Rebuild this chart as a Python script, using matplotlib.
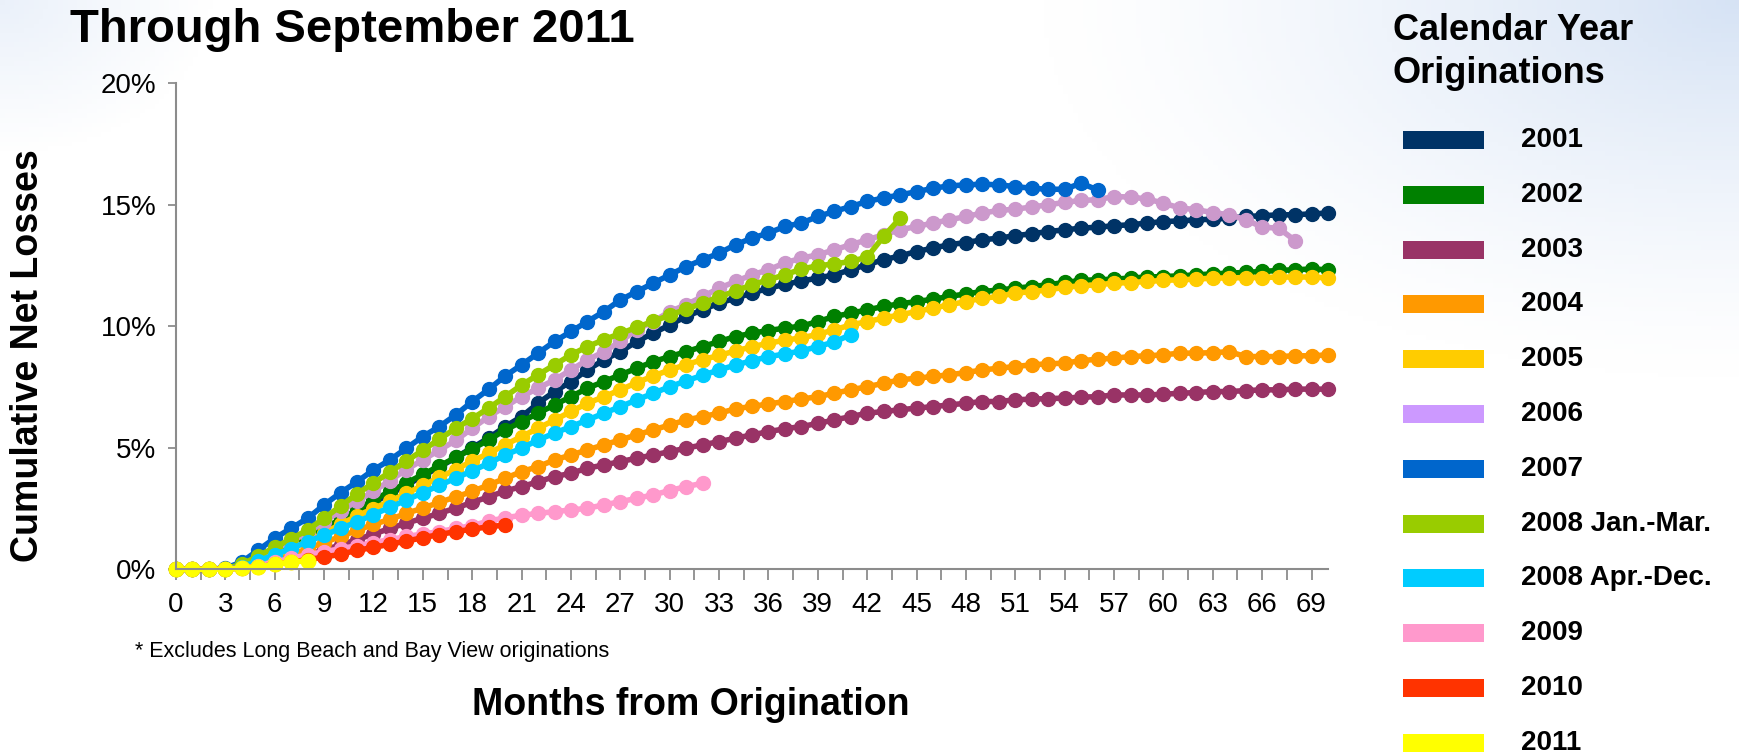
import numpy as np
import matplotlib
matplotlib.use("Agg")
import matplotlib.pyplot as plt
from matplotlib.patches import Rectangle

plt.rcParams['font.family'] = ['Liberation Sans', 'DejaVu Sans']

# cumulative net losses (%) by month from origination, starting at month 0
loss_2001 = [0, 0, 0, 0.02, 0.1, 0.3, 0.6, 0.9, 1.25, 1.6, 1.95, 2.35, 2.75, 3.1, 3.45, 3.85, 4.2, 4.6, 5.0, 5.4,
             5.87, 6.28, 6.83, 7.31, 7.72, 8.20, 8.61, 8.95, 9.37, 9.71, 10.05, 10.40, 10.67, 10.95, 11.15, 11.36,
             11.56, 11.72, 11.85, 11.98, 12.11, 12.32, 12.53, 12.73, 12.89, 13.07, 13.21, 13.35, 13.44, 13.55,
             13.62, 13.72, 13.80, 13.89, 13.96, 14.03, 14.07, 14.13, 14.17, 14.24, 14.30, 14.33, 14.37, 14.40,
             14.44, 14.51, 14.54, 14.58, 14.58, 14.62, 14.65]
loss_2002 = [0, 0, 0, 0.02, 0.1, 0.35, 0.65, 1.0, 1.35, 1.7, 2.05, 2.45, 2.85, 3.2, 3.55, 3.9, 4.25, 4.6, 4.95, 5.32,
             5.73, 6.07, 6.42, 6.76, 7.10, 7.45, 7.72, 8.0, 8.27, 8.54, 8.75, 8.95, 9.16, 9.37, 9.57, 9.71, 9.82,
             9.92, 10.0, 10.19, 10.40, 10.53, 10.67, 10.81, 10.92, 11.01, 11.11, 11.22, 11.33, 11.42, 11.49, 11.56,
             11.63, 11.70, 11.80, 11.88, 11.91, 11.93, 11.98, 12.02, 12.04, 12.07, 12.11, 12.15, 12.18, 12.21,
             12.25, 12.29, 12.32, 12.35, 12.32]
loss_2003 = [0, 0, 0, 0.02, 0.05, 0.15, 0.3, 0.45, 0.6, 0.8, 1.0, 1.22, 1.45, 1.68, 1.9, 2.1, 2.3, 2.52, 2.75, 2.98,
             3.22, 3.40, 3.60, 3.81, 3.95, 4.16, 4.29, 4.43, 4.57, 4.70, 4.84, 4.98, 5.12, 5.25, 5.39, 5.53, 5.66,
             5.78, 5.87, 6.0, 6.14, 6.28, 6.42, 6.49, 6.56, 6.63, 6.69, 6.76, 6.83, 6.90, 6.90, 6.97, 7.0, 7.02,
             7.04, 7.08, 7.10, 7.17, 7.17, 7.17, 7.2, 7.24, 7.27, 7.31, 7.31, 7.35, 7.38, 7.38, 7.41, 7.41, 7.41]
loss_2004 = [0, 0, 0, 0.02, 0.1, 0.25, 0.4, 0.6, 0.85, 1.1, 1.35, 1.6, 1.85, 2.05, 2.3, 2.52, 2.75, 2.98, 3.2, 3.47,
             3.74, 4.02, 4.22, 4.50, 4.70, 4.91, 5.12, 5.32, 5.53, 5.73, 5.94, 6.14, 6.28, 6.42, 6.6, 6.7, 6.8,
             6.9, 7.0, 7.1, 7.24, 7.38, 7.51, 7.65, 7.79, 7.86, 7.93, 8.0, 8.09, 8.20, 8.27, 8.34, 8.41, 8.45,
             8.48, 8.58, 8.64, 8.68, 8.75, 8.78, 8.82, 8.89, 8.89, 8.91, 8.95, 8.75, 8.75, 8.75, 8.78, 8.78, 8.82]
loss_2005 = [0, 0, 0, 0.02, 0.1, 0.3, 0.55, 0.85, 1.15, 1.5, 1.85, 2.2, 2.5, 2.8, 3.12, 3.45, 3.78, 4.1, 4.45, 4.77,
             5.12, 5.46, 5.80, 6.14, 6.49, 6.83, 7.10, 7.38, 7.68, 7.95, 8.2, 8.42, 8.62, 8.8, 8.98, 9.15, 9.3,
             9.42, 9.52, 9.66, 9.85, 10.05, 10.19, 10.33, 10.47, 10.60, 10.74, 10.88, 11.01, 11.15, 11.22, 11.36,
             11.42, 11.49, 11.6, 11.66, 11.70, 11.77, 11.79, 11.84, 11.88, 11.91, 11.93, 11.98, 11.98, 12.0, 12.0,
             12.02, 12.02, 12.02, 11.98]
loss_2006 = [0, 0, 0, 0.02, 0.15, 0.45, 0.8, 1.15, 1.5, 1.95, 2.4, 2.8, 3.2, 3.65, 4.1, 4.5, 4.9, 5.3, 5.8, 6.28,
             6.69, 7.10, 7.45, 7.79, 8.20, 8.61, 8.95, 9.37, 9.85, 10.19, 10.60, 10.88, 11.22, 11.56, 11.84, 12.11,
             12.32, 12.6, 12.8, 12.93, 13.14, 13.35, 13.55, 13.76, 13.96, 14.10, 14.24, 14.37, 14.51, 14.65, 14.76,
             14.81, 14.90, 14.99, 15.09, 15.17, 15.2, 15.33, 15.31, 15.23, 15.06, 14.86, 14.79, 14.67, 14.58,
             14.38, 14.07, 14.03, 13.52]
loss_2007 = [0, 0, 0, 0.05, 0.3, 0.79, 1.28, 1.69, 2.1, 2.65, 3.15, 3.6, 4.09, 4.50, 4.98, 5.46, 5.87, 6.35, 6.90,
             7.4, 7.95, 8.41, 8.89, 9.37, 9.78, 10.19, 10.60, 11.08, 11.42, 11.77, 12.11, 12.45, 12.73, 13.0, 13.35,
             13.62, 13.83, 14.10, 14.24, 14.51, 14.72, 14.92, 15.13, 15.27, 15.40, 15.53, 15.67, 15.77, 15.81,
             15.84, 15.81, 15.74, 15.67, 15.63, 15.63, 15.88, 15.6]
loss_2008_q1 = [0, 0, 0, 0.03, 0.2, 0.55, 0.9, 1.25, 1.62, 2.1, 2.6, 3.1, 3.55, 4.0, 4.45, 4.9, 5.35, 5.8, 6.2, 6.63,
                7.10, 7.58, 8.0, 8.41, 8.82, 9.16, 9.44, 9.7, 9.95, 10.2, 10.45, 10.7, 10.95, 11.2, 11.45, 11.7,
                11.91, 12.11, 12.35, 12.48, 12.56, 12.66, 12.84, 13.69, 14.44]
loss_2008_q2q4 = [0, 0, 0, 0.02, 0.1, 0.35, 0.6, 0.85, 1.14, 1.4, 1.68, 1.95, 2.25, 2.55, 2.85, 3.15, 3.45, 3.75,
                  4.05, 4.36, 4.70, 4.98, 5.32, 5.60, 5.87, 6.14, 6.42, 6.69, 6.97, 7.24, 7.51, 7.75, 7.98, 8.2,
                  8.4, 8.58, 8.74, 8.86, 8.98, 9.16, 9.35, 9.65]
loss_2009 = [0, 0, 0, 0.02, 0.05, 0.15, 0.3, 0.45, 0.6, 0.72, 0.85, 0.97, 1.1, 1.22, 1.35, 1.45, 1.55, 1.68, 1.8,
             1.98, 2.12, 2.22, 2.30, 2.37, 2.44, 2.51, 2.65, 2.78, 2.92, 3.06, 3.24, 3.40, 3.54]
loss_2010 = [0, 0, 0, 0.02, 0.05, 0.1, 0.2, 0.3, 0.4, 0.5, 0.62, 0.78, 0.9, 1.03, 1.16, 1.3, 1.43, 1.55, 1.65, 1.75,
             1.82]
loss_2011 = [0, 0, 0, 0, 0.05, 0.1, 0.2, 0.3, 0.35]

series = [loss_2001, loss_2002, loss_2003, loss_2004, loss_2005, loss_2006, loss_2007,
          loss_2008_q1, loss_2008_q2q4, loss_2009, loss_2010, loss_2011]
labels = ["2001", "2002", "2003", "2004", "2005", "2006", "2007",
          "2008 Jan.-Mar.", "2008 Apr.-Dec.", "2009", "2010", "2011"]
line_colors = ["#003366", "#008000", "#993366", "#FF9900", "#FFCC00", "#CC99CC", "#0066CC",
               "#99CC00", "#00CCFF", "#FF99CC", "#FF3300", "#FFFF00"]
legend_colors = ["#003366", "#008000", "#993366", "#FF9900", "#FFCC00", "#CC99FF", "#0066CC",
                 "#99CC00", "#00CCFF", "#FF99CC", "#FF3300", "#FFFF00"]

month_ticks = np.arange(0, 70.1, 1.5)
y_ticks = [0, 5, 10, 15, 20]

W, H = 1740, 755
fig = plt.figure(figsize=(W / 100, H / 100), dpi=100)

# soft blue glow in the corners, like the slide background
bg = fig.add_axes([0, 0, 1, 1], zorder=-10)
yy, xx = np.mgrid[0:1:160j, 0:1:360j]
glow = np.clip(1 - np.hypot((1 - xx) / 0.4, yy / 0.5), 0, 1) ** 1.3
glow = np.maximum(glow, 0.5 * np.clip(1 - np.hypot(xx / 0.12, yy / 0.2), 0, 1))
blue = np.array([0.84, 0.89, 0.96])
img = (1 - glow[..., None]) * 1.0 + glow[..., None] * blue
bg.imshow(img, extent=[0, 1, 0, 1], aspect='auto', origin='upper')
bg.axis('off')

ax = fig.add_axes([176 / W, 1 - 569.3 / H, (1328 - 176) / W, (569.3 - 83) / H])
ax.patch.set_alpha(0)

for vals, color, lab in zip(series, line_colors, labels):
    months = np.arange(len(vals))
    ms = 10.5 if lab == "2011" else 10
    ax.plot(months, vals, color=color, lw=4, marker='o', ms=ms, mec=color,
            clip_on=False, label=lab)

ax.set_xlim(0, 70)
ax.set_ylim(0, 20)
ax.set_xticks(month_ticks)
ax.set_xticklabels([str(int(t)) if t % 3 == 0 else "" for t in month_ticks])
ax.set_yticks(y_ticks)
ax.set_yticklabels([f"{v}%" for v in y_ticks])

for side in ['top', 'right']:
    ax.spines[side].set_visible(False)
for side in ['left', 'bottom']:
    ax.spines[side].set_color('#8c8c8c')
    ax.spines[side].set_linewidth(1.5)
ax.tick_params(axis='x', length=8, width=1.3, color='#8c8c8c', labelsize=20, pad=8)
ax.tick_params(axis='y', length=6, width=1.3, color='#8c8c8c', labelsize=20, pad=8)

fig.text(70 / W, 1 - 42 / H, "Through September 2011", fontsize=34, fontweight='bold', va='baseline')
fig.text(28 / W, 1 - 356 / H, "Cumulative Net Losses", fontsize=27, fontweight='bold',
         rotation=90, ha='center', va='center')
fig.text(691 / W, 1 - 705 / H, "Months from Origination", fontsize=27, fontweight='bold',
         ha='center', va='center')
fig.text(135 / W, 1 - 652 / H, "* Excludes Long Beach and Bay View originations", fontsize=15.5,
         va='center')

# legend drawn by hand on the right
fig.text(1393 / W, 1 - 40 / H, "Calendar Year", fontsize=26, fontweight='bold', va='baseline')
fig.text(1393 / W, 1 - 83 / H, "Originations", fontsize=26, fontweight='bold', va='baseline')
for i, (lab, color) in enumerate(zip(labels, legend_colors)):
    yc = 140 + i * 54.8
    fig.add_artist(Rectangle((1403 / W, 1 - (yc + 9) / H), 81 / W, 18 / H,
                             transform=fig.transFigure, color=color, lw=0))
    fig.text(1521 / W, 1 - yc / H, lab, fontsize=20, fontweight='bold', va='center')

fig.savefig("out.png", dpi=100)
